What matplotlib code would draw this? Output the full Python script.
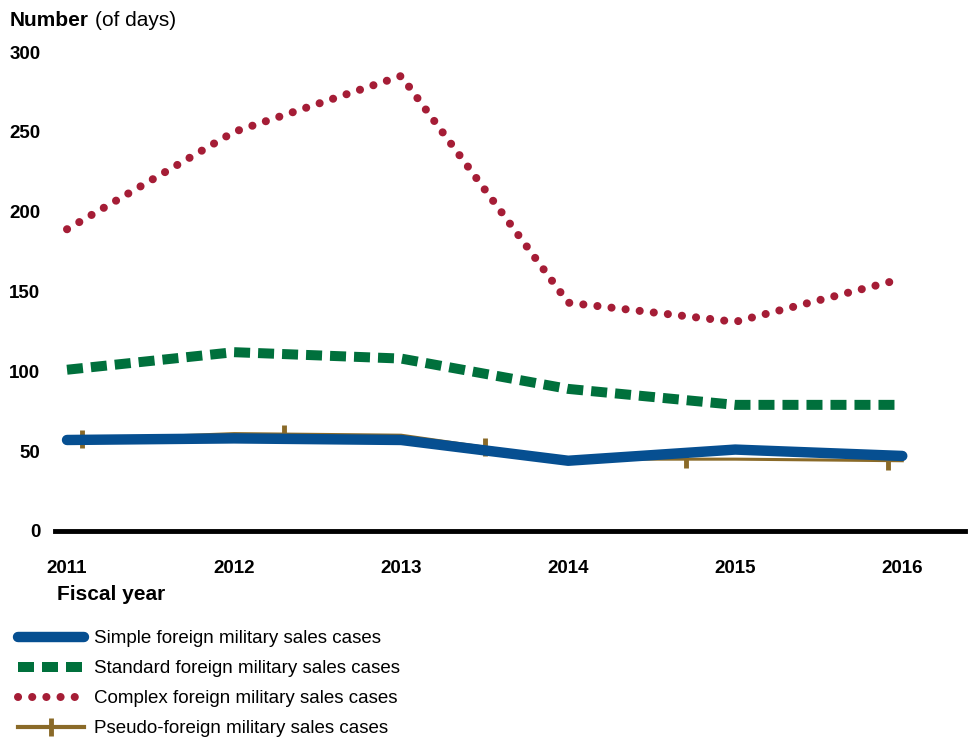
import matplotlib
matplotlib.use("Agg")
import matplotlib.pyplot as plt
import numpy as np
from matplotlib.lines import Line2D

plt.rcParams["font.family"] = ["Liberation Sans", "DejaVu Sans"]

# ── data (days) ────────────────────────────────────────────────
years = [2011, 2012, 2013, 2014, 2015, 2016]
simple = [57, 58, 57, 44, 51, 47]
standard = [101, 112, 108, 89, 79, 79]
complex_ = [189, 250, 285, 143, 131, 158]
pseudo = [57, 61, 60, 45, 45, 44]
y_ticks = [0, 50, 100, 150, 200, 250, 300]

labels = ["Simple foreign military sales cases",
          "Standard foreign military sales cases",
          "Complex foreign military sales cases",
          "Pseudo-foreign military sales cases"]

BLUE = "#064f91"
GREEN = "#00703c"
RED = "#a51d36"
BROWN = "#8a6a28"

RED_LS = (0, (0.01, 1.75))
GREEN_LS = (0, (1.6, 0.8))

fig = plt.figure(figsize=(9.75, 7.38), dpi=100)
ax = fig.add_axes([0.0564, 0.2805, 0.9336, 0.649])
ax.set_xlim(2010.928, 2016.377)
ax.set_ylim(0, 300)

ax.plot(years, complex_, color=RED, lw=5.8, linestyle=RED_LS,
        dash_capstyle="round", clip_on=False, zorder=2)
ax.plot(years, standard, color=GREEN, lw=7.2, linestyle=GREEN_LS,
        dash_capstyle="butt", clip_on=False, zorder=2)
ax.plot(years, pseudo, color=BROWN, lw=2.2, clip_on=False, zorder=3)

# vertical ticks on the pseudo line, evenly spaced along its length (screen px)
pts = ax.transData.transform(np.column_stack([years, pseudo]))
seg = np.hypot(*np.diff(pts, axis=0).T)
cum = np.concatenate([[0], np.cumsum(seg)])
dist = np.arange(15, cum[-1], 202)
tick_px = np.column_stack([np.interp(dist, cum, pts[:, 0]),
                           np.interp(dist, cum, pts[:, 1])])
tick_xy = ax.transData.inverted().transform(tick_px)
ax.plot(tick_xy[:, 0], tick_xy[:, 1], ls="none", marker="|", ms=13, mew=3.5,
        color=BROWN, clip_on=False, zorder=3)

ax.plot(years, simple, color=BLUE, lw=7.5, solid_capstyle="round",
        solid_joinstyle="round", clip_on=False, zorder=4)

ax.set_xticks(years)
ax.set_yticks(y_ticks)
ax.tick_params(length=0, labelsize=13.5)
for lab in ax.get_xticklabels() + ax.get_yticklabels():
    lab.set_fontweight("bold")
ax.tick_params(axis="x", pad=21)
ax.tick_params(axis="y", pad=10.5)
for sp in ["top", "right", "left"]:
    ax.spines[sp].set_visible(False)
ax.spines["bottom"].set_linewidth(3.5)
ax.spines["bottom"].set_zorder(5)

fig.text(0.010, 0.972, "Number", fontsize=15, fontweight="bold", va="center")
fig.text(0.097, 0.972, "(of days)", fontsize=15, va="center")
fig.text(0.058, 0.195, "Fiscal year", fontsize=15, fontweight="bold", va="center")

handles = [
    Line2D([], [], color=BLUE, lw=7.5, solid_capstyle="round"),
    Line2D([], [], color=GREEN, lw=7.2, linestyle=GREEN_LS),
    Line2D([], [], color=RED, lw=5.8, linestyle=RED_LS, dash_capstyle="round"),
    Line2D([], [], color=BROWN, lw=3, marker="|", ms=13, mew=3.5),
]
fig.legend(handles, labels, loc="upper left", bbox_to_anchor=(0.013, 0.154),
           frameon=False, fontsize=13.5, handlelength=3.5, handletextpad=0.55,
           labelspacing=0.69, borderaxespad=0, borderpad=0.3)

fig.savefig("out.png", dpi=100)
